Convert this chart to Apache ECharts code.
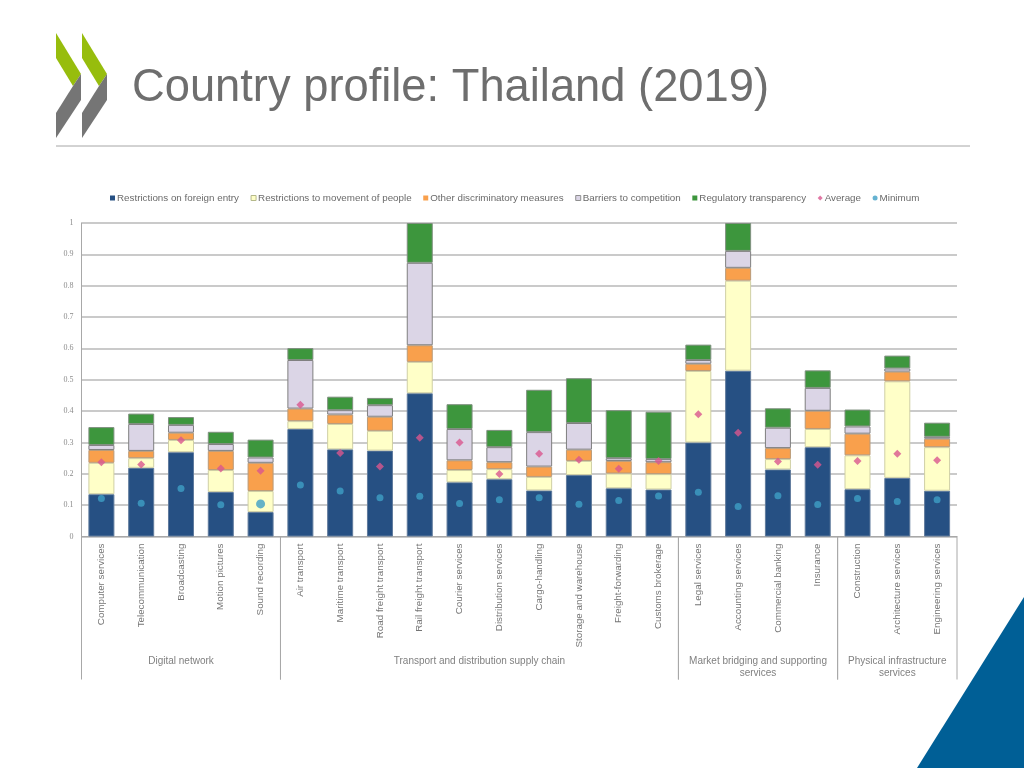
<!DOCTYPE html>
<html>
<head>
<meta charset="utf-8">
<title>Country profile: Thailand (2019)</title>
<script src="https://cdn.jsdelivr.net/npm/echarts@6/dist/echarts.min.js"></script>
<style>
html,body{margin:0;padding:0;background:#fff;}
#main{width:1024px;height:768px;}
</style>
</head>
<body>
<div id="main"></div>
<script>
var sectors = ['Computer services','Telecommunication','Broadcasting','Motion pictures','Sound recording',
	'Air transport','Maritime transport','Road freight transport','Rail freight transport','Courier services',
	'Distribution services','Cargo-handling','Storage and warehouse','Freight-forwarding','Customs brokerage',
	'Legal services','Accounting services','Commercial banking','Insurance',
	'Construction','Architecture services','Engineering services'];

var foreignEntry = [0.135,0.219,0.269,0.142,0.078,0.343,0.278,0.274,0.457,0.173,0.183,0.147,0.196,0.154,0.150,0.300,0.529,0.214,0.285,0.151,0.187,0.146];
var movement     = [0.100,0.031,0.039,0.070,0.067,0.025,0.081,0.063,0.100,0.039,0.032,0.043,0.045,0.047,0.049,0.228,0.287,0.033,0.058,0.108,0.308,0.139];
var otherDiscr   = [0.041,0.023,0.023,0.061,0.090,0.040,0.030,0.045,0.053,0.031,0.022,0.033,0.036,0.040,0.038,0.023,0.041,0.035,0.058,0.069,0.031,0.027];
var competition  = [0.016,0.086,0.025,0.022,0.017,0.155,0.014,0.037,0.263,0.100,0.048,0.110,0.085,0.009,0.010,0.012,0.054,0.065,0.073,0.023,0.010,0.006];
var transparency = [0.057,0.033,0.025,0.039,0.057,0.038,0.043,0.023,0.127,0.079,0.055,0.135,0.143,0.153,0.151,0.049,0.089,0.062,0.056,0.054,0.041,0.045];
var average      = [0.237,0.230,0.307,0.217,0.210,0.420,0.266,0.223,0.315,0.300,0.199,0.264,0.245,0.216,0.241,0.390,0.331,0.239,0.229,0.241,0.264,0.243];
var minimum      = [0.121,0.106,0.153,0.101,0.104,0.164,0.145,0.124,0.128,0.105,0.117,0.124,0.103,0.115,0.129,0.141,0.096,0.130,0.102,0.121,0.112,0.117];

var groupNames = ['Digital network','Transport and distribution supply chain','Market bridging and supporting\nservices','Physical infrastructure\nservices'];
var groupRanges = [[0,5],[5,15],[15,19],[19,22]];

var legendNames = ['Restrictions on foreign entry','Restrictions to movement of people','Other discriminatory measures','Barriers to competition','Regulatory transparency','Average','Minimum'];

var font = 'Liberation Sans';

function barSeries(name,data,color,border)
{
	return {
		name:name,
		type:'bar',
		stack:'total',
		barWidth:26,
		data:data,
		itemStyle:{color:color,borderColor:border,borderWidth:1}
	};
}

// separators and labels of the sector groups below the axis
function renderGroup(params,api)
{
	var start = api.coord([api.value(0),1]);
	var startBottom = api.coord([api.value(0),0]);
	var end = api.coord([api.value(1),1]);
	var endBottom = api.coord([api.value(1),0]);
	var lineStyle = {stroke:'#a8a8a8',lineWidth:1};
	return {
		type:'group',
		children:[
			{type:'line',shape:{x1:start[0],y1:start[1],x2:startBottom[0],y2:startBottom[1]},style:lineStyle},
			{type:'line',shape:{x1:end[0],y1:end[1],x2:endBottom[0],y2:endBottom[1]},style:lineStyle},
			{type:'text',style:{
				x:(start[0]+end[0])/2,
				y:start[1]+119,
				text:groupNames[params.dataIndex],
				align:'center',
				verticalAlign:'top',
				fill:'#808080',
				fontFamily:font,
				fontSize:10,
				lineHeight:12
			}}
		]
	};
}

var myCharts = echarts.init(document.getElementById('main'));

var option = {
	backgroundColor:'#fff',
	animation:false,
	title:{
		text:'Country profile: Thailand (2019)',
		left:132,
		top:66,
		padding:0,
		textStyle:{color:'#6e6e6e',fontFamily:font,fontSize:45.3,fontWeight:'normal'}
	},
	legend:{
		top:188,
		left:105,
		itemWidth:5,
		itemHeight:5,
		itemGap:11.6,
		itemStyle:{borderWidth:0},
		textStyle:{color:'#6a6a6a',fontFamily:font,fontSize:9.8,padding:[0,0,0,-3]},
		data:[
			{name:legendNames[0],icon:'rect'},
			{name:legendNames[1],icon:'rect',itemStyle:{borderWidth:1,borderColor:'#b5b98a'}},
			{name:legendNames[2],icon:'rect'},
			{name:legendNames[3],icon:'rect',itemStyle:{borderWidth:1,borderColor:'#8f8f8f'}},
			{name:legendNames[4],icon:'rect'},
			{name:legendNames[5],icon:'diamond'},
			{name:legendNames[6],icon:'circle'}
		]
	},
	grid:[
		{left:81.5,top:223,width:875.5,height:313.5},
		{left:81.5,top:536.5,width:875.5,height:143}
	],
	xAxis:[
		{
			type:'category',
			gridIndex:0,
			data:sectors,
			axisLine:{lineStyle:{color:'#a8a8a8',width:1}},
			axisTick:{show:false},
			axisLabel:{interval:0,rotate:90,margin:7,color:'#757575',fontFamily:font,fontSize:9.8}
		},
		{type:'value',gridIndex:1,min:0,max:22,show:false}
	],
	yAxis:[
		{
			type:'value',
			gridIndex:0,
			min:0,
			max:1,
			interval:0.1,
			axisLine:{show:true,lineStyle:{color:'#a8a8a8',width:1}},
			axisTick:{show:false},
			axisLabel:{margin:8,color:'#8c8c8c',fontFamily:'Liberation Serif',fontSize:8},
			splitLine:{lineStyle:{color:'#b8b8b8',width:1.5}}
		},
		{type:'value',gridIndex:1,min:0,max:1,show:false}
	],
	series:[
		barSeries(legendNames[0],foreignEntry,'#265083','#5f7a9c'),
		barSeries(legendNames[1],movement,'#ffffc8','#cfcfa5'),
		barSeries(legendNames[2],otherDiscr,'#f9a04c','#b99a78'),
		barSeries(legendNames[3],competition,'#dbd5e6','#7f7f7f'),
		barSeries(legendNames[4],transparency,'#3d963d','#7f8f7f'),
		{name:legendNames[5],type:'scatter',symbol:'diamond',symbolSize:8,data:average,z:5,itemStyle:{color:'#d9568f'}},
		{
			name:legendNames[6],
			type:'scatter',
			symbol:'circle',
			symbolSize:function(value,params){return params.dataIndex==4?9:7;},
			data:minimum,
			z:5,
			itemStyle:{color:'#3f9fc6'}
		},
		{
			type:'custom',
			xAxisIndex:1,
			yAxisIndex:1,
			renderItem:renderGroup,
			encode:{x:[0,1]},
			data:groupRanges,
			silent:true
		}
	],
	graphic:[
		// logo
		{type:'polygon',shape:{points:[[56,33],[81,74],[73,86],[56,58]]},style:{fill:'#97bd0d'}},
		{type:'polygon',shape:{points:[[81,74],[81,100],[56,138],[56,113],[73,86]]},style:{fill:'#757575'}},
		{type:'polygon',shape:{points:[[82,33],[107,74],[99,86],[82,58]]},style:{fill:'#97bd0d'}},
		{type:'polygon',shape:{points:[[107,74],[107,100],[82,138],[82,113],[99,86]]},style:{fill:'#757575'}},
		// rule under the title
		{type:'line',shape:{x1:56,y1:146,x2:970,y2:146},style:{stroke:'#a6a6a6',lineWidth:1}},
		// corner triangle
		{type:'polygon',shape:{points:[[917,768],[1024,597],[1024,768]]},style:{fill:'#005f96'}}
	]
};
myCharts.setOption(option);
</script>
</body>
</html>
